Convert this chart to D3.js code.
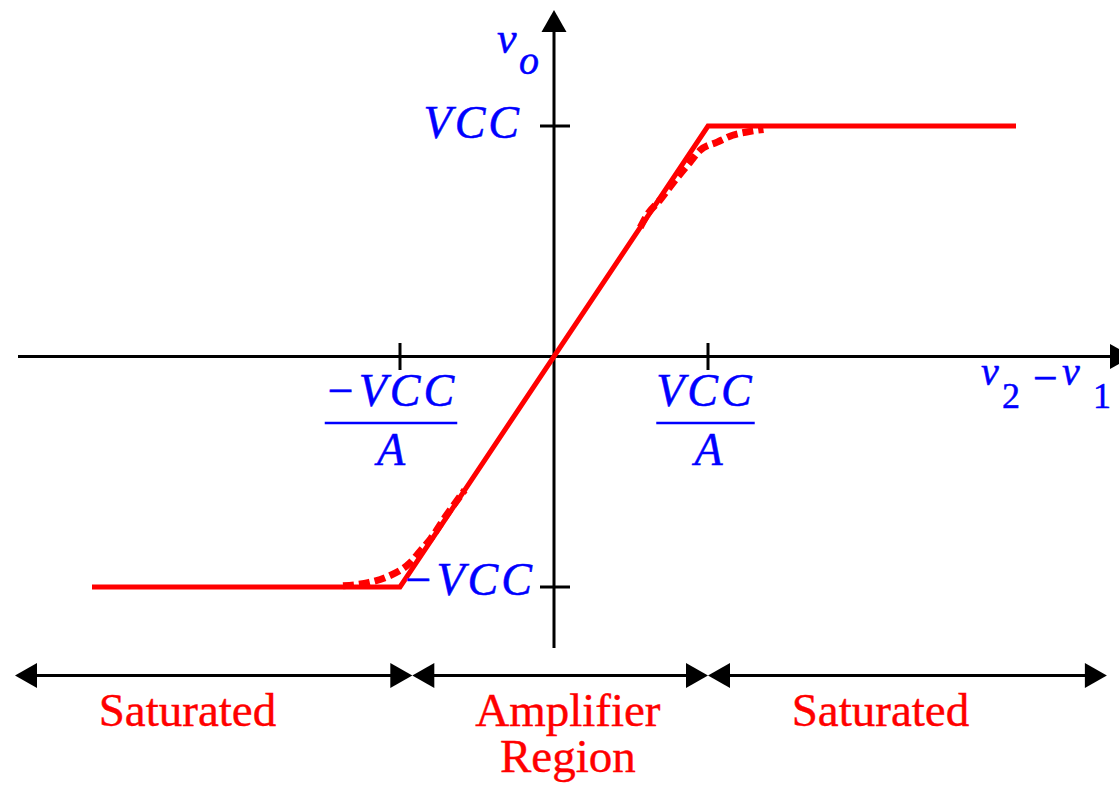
<!DOCTYPE html>
<html><head><meta charset="utf-8">
<script src="https://cdn.jsdelivr.net/npm/d3@7"></script>
<style>body{margin:0;background:#fff}</style>
</head><body>
<svg id="chart" width="1119" height="785"></svg>
<script>
// Op-amp transfer characteristic, normalised units:
// x in multiples of VCC/A, y in multiples of VCC.
const idealX = [-3, -1, 1, 3];
const idealY = [-1, -1, 1, 1];
const softTopX = [0.56, 0.61, 0.69, 0.77, 0.83, 0.88, 0.95, 1.06, 1.16, 1.26, 1.36];
const softTopY = [0.56, 0.62, 0.68, 0.75, 0.80, 0.84, 0.895, 0.93, 0.96, 0.975, 0.985];
const softBotX = [-0.58, -0.70, -0.80, -0.87, -0.935, -1.08, -1.20, -1.37];
const softBotY = [-0.58, -0.69, -0.79, -0.845, -0.895, -0.955, -0.98, -0.995];
const xTickValues = [-1, 1];
const xTickNumerators = ["\u2212VCC", "VCC"];
const xTickDenominator = "A";
const yTickValues = [1, -1];
const yTickLabels = ["VCC", "\u2212VCC"];
const regionBounds = [-3.5, -0.92, 1.0, 3.59];
const regionLabels = [["Saturated"], ["Amplifier", "Region"], ["Saturated"]];
const regionLabelX = [-2.38, 0.09, 2.12];

const BLUE = "#0000ff", RED = "#ff0000";
const FONT = "'Liberation Serif', 'Times New Roman', serif";

const svg = d3.select("#chart");
const x = d3.scaleLinear().domain([-1, 1]).range([400, 708]);
const y = d3.scaleLinear().domain([-1, 1]).range([587, 126]);
const x0 = x(0), y0 = y(0);

// Filled triangular arrowhead; (tx,ty) = tip, (dx,dy) = unit direction
function arrowHead(g, tx, ty, dx, dy, len = 22, half = 12.5) {
  const bx = tx - dx * len, by = ty - dy * len;
  const px = -dy * half, py = dx * half;
  g.append("path")
    .attr("d", `M${tx},${ty}L${bx + px},${by + py}L${bx - px},${by - py}Z`)
    .attr("fill", "#000");
}

const axes = svg.append("g");
// horizontal axis
axes.append("line").attr("x1", 18).attr("x2", 1112).attr("y1", y0).attr("y2", y0)
  .attr("stroke", "#000").attr("stroke-width", 3);
arrowHead(axes, 1132, y0, 1, 0);
// vertical axis
axes.append("line").attr("x1", x0).attr("x2", x0).attr("y1", 648).attr("y2", 30)
  .attr("stroke", "#000").attr("stroke-width", 3);
arrowHead(axes, x0, 10, 0, -1);

// cross ticks
axes.selectAll(".xt").data(xTickValues).join("line")
  .attr("x1", d => x(d)).attr("x2", d => x(d))
  .attr("y1", y0 - 13.5).attr("y2", y0 + 13.5)
  .attr("stroke", "#000").attr("stroke-width", 3);
axes.selectAll(".yt").data(yTickValues).join("line")
  .attr("x1", x0 - 14).attr("x2", x0 + 16)
  .attr("y1", d => y(d)).attr("y2", d => y(d))
  .attr("stroke", "#000").attr("stroke-width", 3);

// curves: soft saturation (dashed) and ideal piecewise-linear response
const line = d3.line().x(d => x(d[0])).y(d => y(d[1]));
const soft = d3.line().x(d => x(d[0])).y(d => y(d[1])).curve(d3.curveMonotoneX);
const topPts = softTopX.map((v, i) => [v, softTopY[i]]);
const botPts = softBotX.map((v, i) => [v, softBotY[i]]).sort((a, b) => a[0] - b[0]);
[topPts, botPts].forEach(p => {
  svg.append("path").attr("d", soft(p)).attr("fill", "none")
    .attr("stroke", RED).attr("stroke-width", 7).attr("stroke-dasharray", "11,5");
});
svg.append("path").attr("d", line(idealX.map((v, i) => [v, idealY[i]])))
  .attr("fill", "none").attr("stroke", RED).attr("stroke-width", 5)
  .attr("stroke-linejoin", "miter");

// y tick labels
const labels = svg.append("g").attr("fill", BLUE).attr("font-family", FONT)
  .attr("font-style", "italic").attr("font-size", 46)
  .attr("stroke", BLUE).attr("stroke-width", 0.5);
labels.append("text").attr("x", 522).attr("y", 138).attr("text-anchor", "end")
  .attr("letter-spacing", 3).text(yTickLabels[0]);
labels.append("text").attr("x", 535).attr("y", 595).attr("text-anchor", "end")
  .attr("letter-spacing", 3).text(yTickLabels[1]);

// x tick labels as fractions
xTickValues.forEach((v, i) => {
  const cx = x(v) + (v < 0 ? -9 : -2.5);
  const t = labels.append("text").attr("x", cx).attr("y", 406)
    .attr("text-anchor", "middle").attr("letter-spacing", 3).text(xTickNumerators[i]);
  const w = t.node().getBBox().width;
  labels.append("line").attr("x1", cx - w / 2).attr("x2", cx + w / 2)
    .attr("y1", 423).attr("y2", 423).attr("stroke", BLUE).attr("stroke-width", 2.5);
  labels.append("text").attr("x", x(v) - (v < 0 ? 9 : -0.5)).attr("y", 465)
    .attr("text-anchor", "middle").text(xTickDenominator);
});

// axis titles
const vo = labels.append("text").attr("x", 497).attr("y", 53);
vo.append("tspan").attr("font-size", 44).text("v");
vo.append("tspan").attr("x", 519).attr("y", 74).attr("font-size", 40).text("o");

const dv = labels.append("text").attr("y", 385).attr("font-size", 40);
dv.append("tspan").attr("x", 981).text("v");
dv.append("tspan").attr("x", 1002).attr("y", 408).attr("font-style", "normal").attr("font-size", 36).text("2");
dv.append("tspan").attr("x", 1033).attr("y", 393).attr("font-style", "normal").attr("font-size", 44).text("\u2212");
dv.append("tspan").attr("x", 1062).attr("y", 385).attr("font-size", 40).text("v");
dv.append("tspan").attr("x", 1093).attr("y", 408).attr("font-style", "normal").attr("font-size", 36).text("1");

// operating regions
const ry = 675.5;
const reg = svg.append("g");
for (let i = 0; i < regionLabels.length; i++) {
  const a = x(regionBounds[i]), b = x(regionBounds[i + 1]);
  reg.append("line").attr("x1", a + 10).attr("x2", b - 10).attr("y1", ry).attr("y2", ry)
    .attr("stroke", "#000").attr("stroke-width", 3);
  arrowHead(reg, a, ry, -1, 0);
  arrowHead(reg, b, ry, 1, 0);
  const t = reg.append("text").attr("x", x(regionLabelX[i])).attr("y", 726)
    .attr("text-anchor", "middle").attr("fill", RED)
    .attr("stroke", RED).attr("stroke-width", 0.4)
    .attr("font-family", FONT).attr("font-size", 47);
  regionLabels[i].forEach((s, k) => {
    t.append("tspan").attr("x", x(regionLabelX[i])).attr("dy", k ? 46 : 0).text(s);
  });
}
</script>
</body></html>
